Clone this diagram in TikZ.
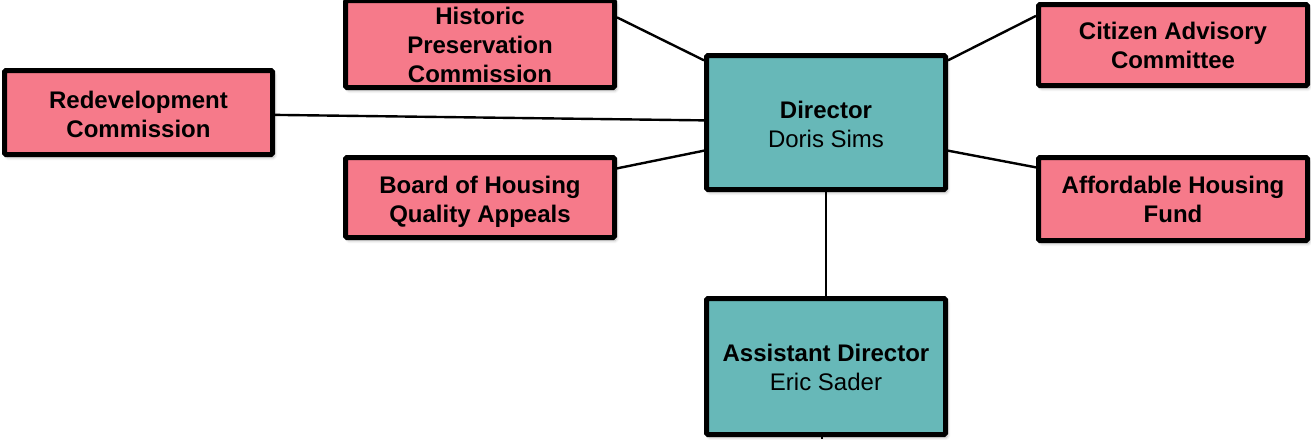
\documentclass[tikz,border=0pt]{standalone}
\usepackage{fontspec}
\setmainfont{Liberation Sans}
\usetikzlibrary{shadows.blur}
\definecolor{boardpink}{HTML}{F67A8A}
\definecolor{staffteal}{HTML}{67B8B8}
% centred lines, lowered a little without changing the box size
\newcommand{\unittext}[2]{\raisebox{-#1}[\height][\depth]{\begin{tabular}{@{}c@{}}#2\end{tabular}}}
\begin{document}
\begin{tikzpicture}[x=1pt,y=-1pt,
  unit/.style={draw=black, line width=5pt, rounded corners=1.5pt, inner sep=0pt,
    font=\fontsize{24}{29}\selectfont,
    blur shadow={shadow xshift=2pt, shadow yshift=-3pt, shadow blur radius=3pt,
      shadow blur steps=6, shadow opacity=30}},
  board/.style={unit, fill=boardpink, minimum width=269pt},
  staff/.style={unit, fill=staffteal, minimum width=239pt},
  link/.style={draw=black, line width=2.4pt}]
\useasboundingbox (0,0) rectangle (1311,439);
\renewcommand{\arraystretch}{1}
\setlength{\tabcolsep}{0pt}

% advisory bodies
\node[board, minimum height=83pt] (hist) at (480,44)
  {\unittext{4pt}{\textbf{Historic}\\\textbf{Preservation}\\\textbf{Commission}}};
\node[board, minimum width=268pt, minimum height=84pt] (redev) at (138.5,112.5)
  {\unittext{5pt}{\textbf{Redevelopment}\\\textbf{Commission}}};
\node[board, minimum height=80pt] (hqa) at (480,197.5)
  {\unittext{5pt}{\textbf{Board of Housing}\\\textbf{Quality Appeals}}};
\node[board, minimum height=81pt] (cac) at (1173,45)
  {\unittext{3pt}{\textbf{Citizen Advisory}\\\textbf{Committee}}};
\node[board, minimum height=83pt] (ahf) at (1173,199)
  {\unittext{3.5pt}{\textbf{Affordable Housing}\\\textbf{Fund}}};

% staff
\node[staff, minimum height=134pt] (dir) at (826,122.5)
  {\unittext{5pt}{\textbf{Director}\\Doris Sims}};
\node[staff, minimum height=136pt] (asst) at (826,366.5)
  {\unittext{4pt}{\textbf{Assistant Director}\\Eric Sader}};
\coordinate (below) at (822,439);

% connectors
\draw[link] (hist.11) -- (dir.153);
\draw[link] (redev.-1) -- (dir.179);
\draw[link] (hqa.12) -- (dir.193);
\draw[link] (dir.27) -- (cac.168);
\draw[link] (dir.-13) -- (ahf.167);
\draw[link] (dir.south) -- (asst.north);
\draw[link] (asst.south -| below) -- (below);
\end{tikzpicture}
\end{document}
